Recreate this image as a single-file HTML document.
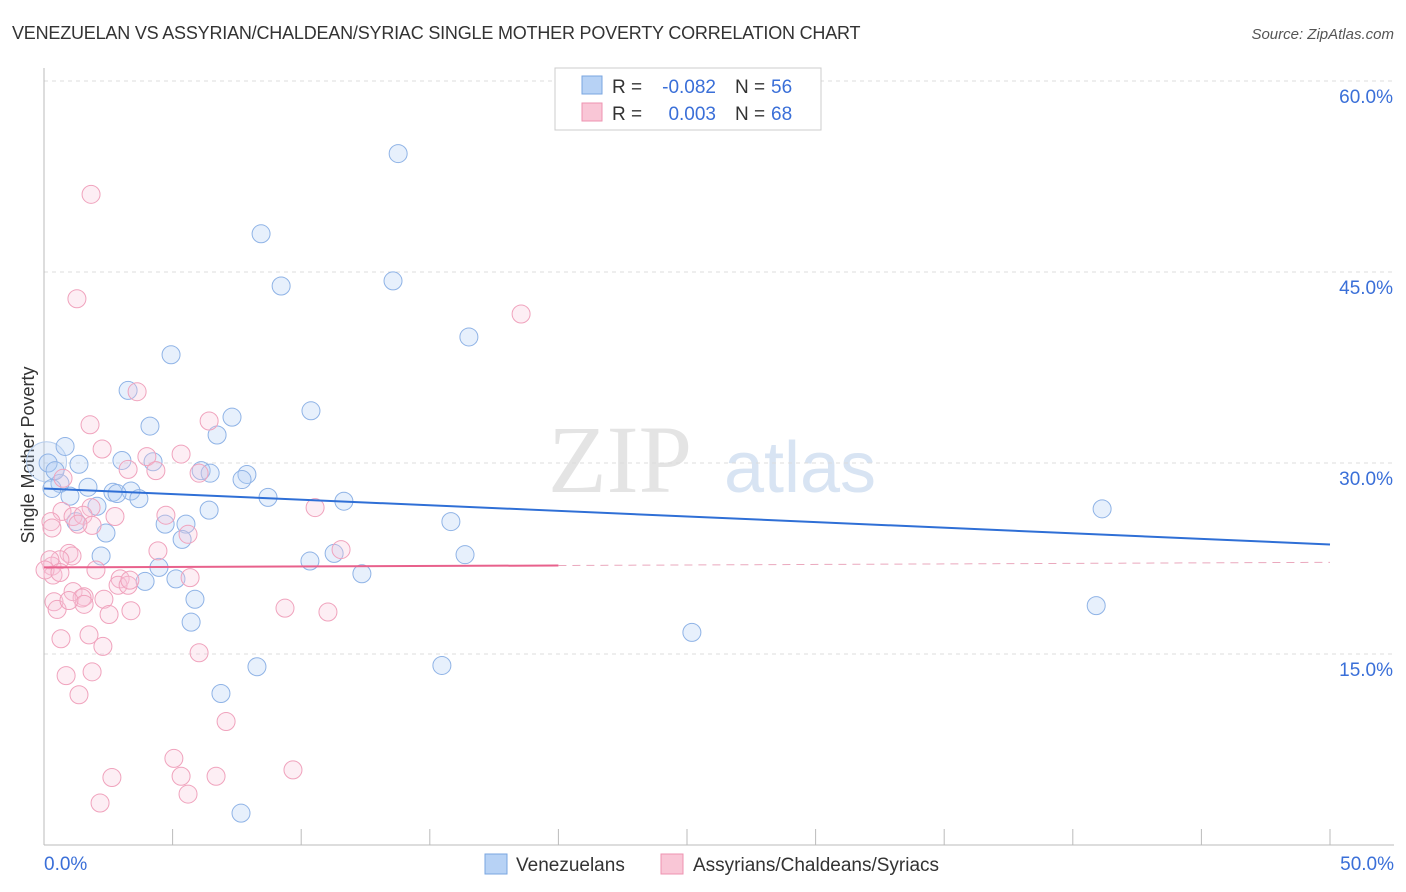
<!DOCTYPE html>
<html><head><meta charset="utf-8">
<style>
body{margin:0;background:#fff;font-family:"Liberation Sans",sans-serif;}
#wrap{position:relative;width:1406px;height:892px;overflow:hidden;}
</style></head>
<body>
<div id="wrap">
<svg id="svg" width="1406" height="892" xmlns="http://www.w3.org/2000/svg">
<text x="12" y="39" font-size="18" fill="#333" letter-spacing="-0.2">VENEZUELAN VS ASSYRIAN/CHALDEAN/SYRIAC SINGLE MOTHER POVERTY CORRELATION CHART</text>
<text x="1394" y="39" font-size="15" fill="#555" text-anchor="end" font-style="italic">Source: ZipAtlas.com</text>
<text x="620" y="492" font-size="96" fill="#e4e4e4" font-family="Liberation Serif,serif" text-anchor="middle">ZIP</text>
<text x="800" y="492" font-size="72" fill="#d8e4f3" text-anchor="middle">atlas</text>
<text transform="translate(34,455) rotate(-90)" font-size="18" fill="#333" text-anchor="middle">Single Mother Poverty</text>
<g id="grid"></g><g id="pts"></g><g id="lines"></g>
<g>
<rect x="555" y="68" width="266" height="62" fill="#fff" stroke="#ccc"/>
<rect x="582" y="76" width="20" height="18" fill="#b7d2f5" stroke="#7aa6e0"/>
<rect x="582" y="103" width="20" height="18" fill="#f9c6d6" stroke="#ee93b0"/>
<text x="612" y="93" font-size="19" fill="#333">R =</text>
<text x="716" y="93" font-size="19" fill="#3a6fd8" text-anchor="end">-0.082</text>
<text x="735" y="93" font-size="19" fill="#333">N =</text>
<text x="771" y="93" font-size="19" fill="#3a6fd8">56</text>
<text x="612" y="120" font-size="19" fill="#333">R =</text>
<text x="716" y="120" font-size="19" fill="#3a6fd8" text-anchor="end">0.003</text>
<text x="735" y="120" font-size="19" fill="#333">N =</text>
<text x="771" y="120" font-size="19" fill="#3a6fd8">68</text>
</g>
<g>
<rect x="485" y="854" width="22" height="20" fill="#b7d2f5" stroke="#7aa6e0"/>
<text x="516" y="871" font-size="19" fill="#333">Venezuelans</text>
<rect x="661" y="854" width="22" height="20" fill="#f9c6d6" stroke="#ee93b0"/>
<text x="693" y="871" font-size="19" fill="#333">Assyrians/Chaldeans/Syriacs</text>
</g>
</svg>
</div>
<script>
const blueX=[13.77,8.44,9.22,13.57,16.52,4.94,3.27,10.38,7.31,4.12,6.73,0.82,1.36,3.03,4.24,6.11,6.46,7.89,7.70,0.62,0.31,1.71,2.68,3.38,2.84,3.69,8.71,11.66,1.01,2.06,6.42,15.82,1.24,5.52,4.71,2.41,5.37,2.22,11.28,16.37,10.34,4.47,3.93,5.13,12.36,5.87,41.14,40.91,5.72,25.19,8.28,15.47,6.88,7.66,0.16,0.43];
const blueY=[54.3,48.0,43.9,44.3,39.9,38.5,35.7,34.1,33.6,32.9,32.2,31.3,29.9,30.2,30.1,29.4,29.2,29.1,28.7,28.4,28.0,28.1,27.7,27.8,27.6,27.2,27.3,27.0,27.4,26.6,26.3,25.4,25.4,25.2,25.2,24.5,24.0,22.7,22.9,22.8,22.3,21.8,20.7,20.9,21.3,19.3,26.4,18.8,17.5,16.7,14.0,14.1,11.9,2.5,30.0,29.4];
const pinkX=[1.83,1.28,18.55,3.62,1.79,2.26,6.42,5.33,4.00,4.35,6.03,3.27,0.74,1.83,0.70,1.13,2.76,4.74,1.52,10.54,1.87,1.32,5.60,0.27,11.55,4.43,0.97,1.09,0.62,0.31,0.35,2.02,2.96,5.68,2.88,3.27,1.13,1.56,0.39,0.51,2.33,1.48,1.56,0.97,9.37,11.04,3.38,2.53,1.75,0.66,2.29,6.03,1.87,0.86,1.36,7.08,5.05,2.64,5.33,6.69,9.68,5.60,2.18,0.23,0.04,0.31,3.34,0.62];
const pinkY=[51.1,42.9,41.7,35.6,33.0,31.1,33.3,30.7,30.5,29.4,29.2,29.5,28.8,26.5,26.2,25.8,25.8,25.9,25.9,26.5,25.1,25.2,24.4,25.4,23.2,23.1,22.9,22.7,22.4,21.9,21.2,21.6,20.9,21.0,20.4,20.4,19.9,19.5,19.1,18.5,19.3,19.4,18.9,19.2,18.6,18.3,18.4,18.1,16.5,16.2,15.6,15.1,13.6,13.3,11.8,9.7,6.8,5.3,5.4,5.4,5.9,4.0,3.3,22.4,21.6,24.9,20.8,21.4];
const yTicks=[15,30,45,60];
const xMin=0,xMax=50;
const X=v=>44+(v-xMin)/(xMax-xMin)*1286;
const Y=v=>845-v/15*191;
const NS="http://www.w3.org/2000/svg";
function mk(tag,attrs,parent){const e=document.createElementNS(NS,tag);for(const k in attrs)e.setAttribute(k,attrs[k]);parent.appendChild(e);return e;}
const grid=document.getElementById('grid');
yTicks.forEach(t=>{
 const l=mk('line',{x1:44,x2:1394,y1:Y(t),y2:Y(t),stroke:'#ddd','stroke-dasharray':'4,4'},grid);
 
 
 const tx=mk('text',{x:1393,y:Y(t)+22,'font-size':19,fill:'#3a6fd8','text-anchor':'end'},grid);
 tx.textContent=t.toFixed(1)+'%';
 
 
});
const ax=mk('line',{x1:44,x2:44,y1:68,y2:845,stroke:'#bbb'},grid);


const bx=mk('line',{x1:44,x2:1394,y1:845,y2:845,stroke:'#bbb'},grid);


for(let i=0;i<=10;i++){const xx=44+i*128.6;const tk=mk('line',{x1:xx,x2:xx,y1:829,y2:845,stroke:'#bbb'},grid);
 
 }
[[0,'start',44],[50,'end',1394]].forEach(([v,a,px])=>{const t=mk('text',{x:px,y:870,'font-size':19,fill:'#3a6fd8','text-anchor':a},grid);t.textContent=v.toFixed(1)+'%';
 
 });
const pts=document.getElementById('pts');
const bc=mk('circle',{cx:X(0.1),cy:Y(30.1),r:20,fill:'rgba(170,200,240,0.25)',stroke:'#b5cdee'},pts);


blueX.forEach((v,i)=>{const c=mk('circle',{cx:X(v),cy:Y(blueY[i]),r:9,fill:'rgba(175,205,245,0.3)',stroke:'#8fb3e6','stroke-width':1},pts);
 
 });
pinkX.forEach((v,i)=>{const c=mk('circle',{cx:X(v),cy:Y(pinkY[i]),r:9,fill:'rgba(250,200,218,0.3)',stroke:'#f0a3bd','stroke-width':1},pts);
 
 });
const lines=document.getElementById('lines');
const bl=mk('line',{x1:X(0),y1:Y(28.0),x2:X(50),y2:Y(23.6),stroke:'#2f6fd6','stroke-width':2},lines);


const pl=mk('line',{x1:X(0),y1:Y(21.8),x2:X(20),y2:Y(21.95),stroke:'#e8618c','stroke-width':2},lines);


const pd=mk('line',{x1:X(20),y1:Y(21.95),x2:X(50),y2:Y(22.2),stroke:'#eaa8bd','stroke-width':1,'stroke-dasharray':'8,6'},lines);


</script>
</body></html>
